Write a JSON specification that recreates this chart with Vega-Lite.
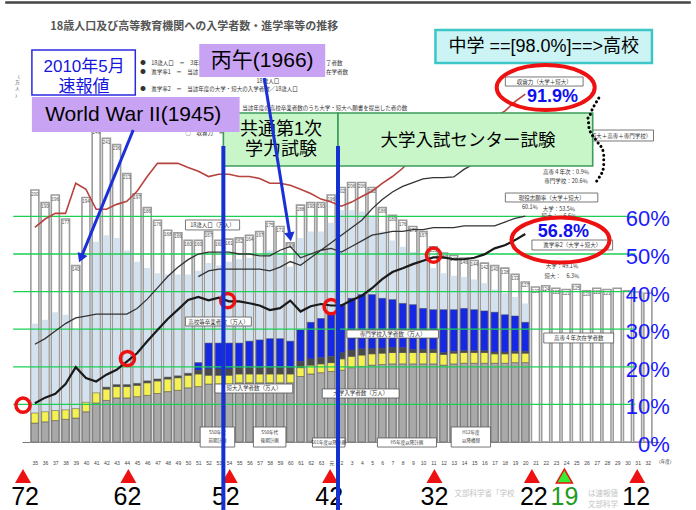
{
  "$schema": "https://vega.github.io/schema/vega-lite/v6.json",
  "width": 637,
  "height": 378,
  "autosize": {"type": "none"},
  "padding": {"left": 22, "top": 64, "right": 37, "bottom": 68},
  "background": "#ffffff",
  "config": {"view": {"stroke": null}, "axis": {"grid": false}, "font": "Liberation Sans, Noto Sans CJK JP"},
  "datasets": {
    "bars": [
      {"yr":1960,"pop":200,"hs":94,"s1_uni":15,"s2_jc":8,"s3_oth":0,"s4_sen":0},
      {"yr":1961,"pop":190,"hs":97,"s1_uni":16,"s2_jc":8,"s3_oth":0,"s4_sen":0},
      {"yr":1962,"pop":196,"hs":103,"s1_uni":17,"s2_jc":8,"s3_oth":0,"s4_sen":0},
      {"yr":1963,"pop":177,"hs":101,"s1_uni":18,"s2_jc":7.5,"s3_oth":0,"s4_sen":0},
      {"yr":1964,"pop":140,"hs":89,"s1_uni":19,"s2_jc":7.5,"s3_oth":0,"s4_sen":0},
      {"yr":1965,"pop":194,"hs":119,"s1_uni":24,"s2_jc":7.5,"s3_oth":0,"s4_sen":0},
      {"yr":1966,"pop":249,"hs":159,"s1_uni":31,"s2_jc":8,"s3_oth":0,"s4_sen":0},
      {"yr":1967,"pop":241,"hs":164,"s1_uni":33,"s2_jc":9,"s3_oth":1.5,"s4_sen":0},
      {"yr":1968,"pop":236,"hs":162,"s1_uni":35,"s2_jc":9,"s3_oth":1.5,"s4_sen":0},
      {"yr":1969,"pop":213,"hs":152,"s1_uni":35,"s2_jc":9,"s3_oth":1.5,"s4_sen":0},
      {"yr":1970,"pop":197,"hs":143,"s1_uni":36,"s2_jc":9,"s3_oth":1.5,"s4_sen":0},
      {"yr":1971,"pop":186,"hs":138,"s1_uni":37,"s2_jc":10,"s3_oth":1.5,"s4_sen":0},
      {"yr":1972,"pop":176,"hs":134,"s1_uni":38.5,"s2_jc":10,"s3_oth":1.5,"s4_sen":0},
      {"yr":1973,"pop":168,"hs":133,"s1_uni":40,"s2_jc":10,"s3_oth":1.5,"s4_sen":0},
      {"yr":1974,"pop":166,"hs":133,"s1_uni":41,"s2_jc":10,"s3_oth":1.5,"s4_sen":0},
      {"yr":1975,"pop":160,"hs":133,"s1_uni":43,"s2_jc":10,"s3_oth":1.5,"s4_sen":0},
      {"yr":1976,"pop":160,"hs":136,"s1_uni":44,"s2_jc":10,"s3_oth":3,"s4_sen":6},
      {"yr":1977,"pop":167,"hs":142,"s1_uni":46,"s2_jc":7,"s3_oth":5,"s4_sen":20.5},
      {"yr":1978,"pop":160,"hs":140,"s1_uni":46,"s2_jc":7,"s3_oth":5,"s4_sen":20.5},
      {"yr":1979,"pop":161,"hs":143,"s1_uni":46,"s2_jc":7,"s3_oth":5,"s4_sen":20.5},
      {"yr":1980,"pop":162,"hs":145,"s1_uni":47,"s2_jc":7,"s3_oth":5,"s4_sen":19.5},
      {"yr":1981,"pop":164,"hs":146,"s1_uni":47,"s2_jc":7,"s3_oth":5,"s4_sen":21},
      {"yr":1982,"pop":167,"hs":147,"s1_uni":47,"s2_jc":7,"s3_oth":5,"s4_sen":22},
      {"yr":1983,"pop":175,"hs":152,"s1_uni":47,"s2_jc":7,"s3_oth":5,"s4_sen":23},
      {"yr":1984,"pop":171,"hs":150,"s1_uni":47,"s2_jc":7,"s3_oth":5,"s4_sen":23},
      {"yr":1985,"pop":158,"hs":139,"s1_uni":47,"s2_jc":7,"s3_oth":5,"s4_sen":21},
      {"yr":1986,"pop":188,"hs":162,"s1_uni":52,"s2_jc":7,"s3_oth":5,"s4_sen":25},
      {"yr":1987,"pop":190,"hs":167,"s1_uni":54,"s2_jc":7,"s3_oth":5,"s4_sen":29},
      {"yr":1988,"pop":190,"hs":167,"s1_uni":55,"s2_jc":7,"s3_oth":5,"s4_sen":31},
      {"yr":1989,"pop":196,"hs":174,"s1_uni":56,"s2_jc":7,"s3_oth":5,"s4_sen":33},
      {"yr":1990,"pop":202,"hs":184,"s1_uni":57,"s2_jc":9,"s3_oth":5,"s4_sen":38},
      {"yr":1991,"pop":206,"hs":184,"s1_uni":59,"s2_jc":9,"s3_oth":5,"s4_sen":41},
      {"yr":1992,"pop":206,"hs":183,"s1_uni":60,"s2_jc":9,"s3_oth":5,"s4_sen":43},
      {"yr":1993,"pop":202,"hs":180,"s1_uni":61,"s2_jc":9,"s3_oth":4,"s4_sen":43},
      {"yr":1994,"pop":186,"hs":167,"s1_uni":61.5,"s2_jc":9,"s3_oth":4,"s4_sen":39.5},
      {"yr":1995,"pop":180,"hs":160,"s1_uni":62,"s2_jc":9,"s3_oth":4,"s4_sen":38},
      {"yr":1996,"pop":176,"hs":155,"s1_uni":62,"s2_jc":9,"s3_oth":4,"s4_sen":35},
      {"yr":1997,"pop":171,"hs":151,"s1_uni":62,"s2_jc":9,"s3_oth":2.5,"s4_sen":35.5},
      {"yr":1998,"pop":167,"hs":148,"s1_uni":62,"s2_jc":9,"s3_oth":2.5,"s4_sen":32.5},
      {"yr":1999,"pop":155,"hs":138,"s1_uni":62,"s2_jc":9,"s3_oth":2.5,"s4_sen":31.5},
      {"yr":2000,"pop":150,"hs":134,"s1_uni":61,"s2_jc":8.5,"s3_oth":1.5,"s4_sen":34},
      {"yr":2001,"pop":148,"hs":132,"s1_uni":62,"s2_jc":8.5,"s3_oth":1.5,"s4_sen":33},
      {"yr":2002,"pop":146,"hs":131,"s1_uni":62.5,"s2_jc":8.5,"s3_oth":1.5,"s4_sen":33.5},
      {"yr":2003,"pop":144,"hs":129,"s1_uni":62.5,"s2_jc":8.5,"s3_oth":1.5,"s4_sen":32.5},
      {"yr":2004,"pop":142,"hs":126,"s1_uni":62.5,"s2_jc":8.5,"s3_oth":1.5,"s4_sen":31.5},
      {"yr":2005,"pop":140,"hs":121,"s1_uni":62.5,"s2_jc":7.5,"s3_oth":1.5,"s4_sen":31.5},
      {"yr":2006,"pop":138,"hs":118,"s1_uni":62.5,"s2_jc":7.5,"s3_oth":1.5,"s4_sen":29.5},
      {"yr":2007,"pop":133,"hs":115,"s1_uni":63,"s2_jc":7.5,"s3_oth":1.5,"s4_sen":28},
      {"yr":2008,"pop":127,"hs":110,"s1_uni":63,"s2_jc":7.5,"s3_oth":1.5,"s4_sen":23},
      {"yr":2009,"pop":123},
      {"yr":2010,"pop":124},
      {"yr":2011,"pop":122},
      {"yr":2012,"pop":121},
      {"yr":2013,"pop":125},
      {"yr":2014,"pop":120},
      {"yr":2015,"pop":122},
      {"yr":2016,"pop":121},
      {"yr":2017,"pop":122},
      {"yr":2018,"pop":120},
      {"yr":2019,"pop":119},
      {"yr":2020,"pop":118}
    ],
    "rates": [
      {"yr":1960,"cap":57.1,"r2":10.3,"gen":26},
      {"yr":1961,"cap":59.3,"r2":11.8,"gen":27.5},
      {"yr":1962,"cap":60.8,"r2":12.8,"gen":29.5},
      {"yr":1963,"cap":60.8,"r2":15.4,"gen":31.5},
      {"yr":1964,"cap":68.8,"r2":19.9,"gen":33},
      {"yr":1965,"cap":67.2,"r2":17.0,"gen":33.5},
      {"yr":1966,"cap":61.9,"r2":16.1,"gen":34},
      {"yr":1967,"cap":61.9,"r2":17.9,"gen":34},
      {"yr":1968,"cap":63.2,"r2":19.2,"gen":34},
      {"yr":1969,"cap":64.0,"r2":21.4,"gen":34},
      {"yr":1970,"cap":66.7,"r2":23.6,"gen":35.5},
      {"yr":1971,"cap":70.6,"r2":26.8,"gen":38},
      {"yr":1972,"cap":74.1,"r2":29.8,"gen":41},
      {"yr":1973,"cap":74.1,"r2":32.7,"gen":44},
      {"yr":1974,"cap":74.1,"r2":35.2,"gen":46.5},
      {"yr":1975,"cap":73.0,"r2":37.8,"gen":48.5},
      {"yr":1976,"cap":72.0,"r2":38.6,"gen":50,"r1":44},
      {"yr":1977,"cap":70.6,"r2":37.7,"gen":50.5,"r1":45.5},
      {"yr":1978,"cap":71.2,"r2":38.4,"gen":50.5,"r1":46},
      {"yr":1979,"cap":71.2,"r2":37.4,"gen":50.5,"r1":46},
      {"yr":1980,"cap":70.6,"r2":37.4,"gen":50,"r1":46},
      {"yr":1981,"cap":70.6,"r2":36.9,"gen":50,"r1":46},
      {"yr":1982,"cap":70.1,"r2":36.3,"gen":49.5,"r1":46},
      {"yr":1983,"cap":68.8,"r2":35.1,"gen":49.5,"r1":45.5},
      {"yr":1984,"cap":68.8,"r2":35.6,"gen":51,"r1":46.5},
      {"yr":1985,"cap":68.3,"r2":37.6,"gen":52,"r1":48},
      {"yr":1986,"cap":67.2,"r2":34.7,"gen":49,"r1":47},
      {"yr":1987,"cap":66.1,"r2":36.1,"gen":50,"r1":49},
      {"yr":1988,"cap":64.6,"r2":36.7,"gen":51,"r1":51},
      {"yr":1989,"cap":63.8,"r2":36.3,"gen":51.5,"r1":53},
      {"yr":1990,"cap":62.7,"r2":36.3,"gen":50.5,"r1":55},
      {"yr":1991,"cap":63.8,"r2":37.7,"gen":52,"r1":57},
      {"yr":1992,"cap":65.3,"r2":38.9,"gen":53.5,"r1":59},
      {"yr":1993,"cap":66.7,"r2":40.9,"gen":55,"r1":62},
      {"yr":1994,"cap":68.8,"r2":43.3,"gen":55.5,"r1":64.5},
      {"yr":1995,"cap":70.6,"r2":45.2,"gen":56,"r1":66.5},
      {"yr":1996,"cap":72.8,"r2":46.2,"gen":56,"r1":68},
      {"yr":1997,"cap":75.7,"r2":47.3,"gen":56.5,"r1":69},
      {"yr":1998,"cap":78,"r2":48.2,"gen":56.5,"r1":70},
      {"yr":1999,"cap":80,"r2":49.1,"gen":57,"r1":70.3},
      {"yr":2000,"cap":81.5,"r2":49.1,"gen":57,"r1":70.3},
      {"yr":2001,"cap":82.5,"r2":48.6,"gen":57,"r1":70.5},
      {"yr":2002,"cap":83.5,"r2":48.6,"gen":57.5,"r1":72.5},
      {"yr":2003,"cap":84.5,"r2":49.0,"gen":57.5,"r1":74},
      {"yr":2004,"cap":85.5,"r2":49.9,"gen":57.5,"r1":75},
      {"yr":2005,"cap":86.5,"r2":51.5,"gen":57.5,"r1":76},
      {"yr":2006,"cap":88,"r2":52.3,"gen":58.5,"r1":76.5},
      {"yr":2007,"cap":90.5,"r2":53.7,"gen":59.5,"r1":77},
      {"yr":2008,"cap":92.5,"r2":55.3,"gen":60.1,"r1":77}
    ]
  },
  "encoding": {
    "x": {
      "field": "yr", "type": "quantitative",
      "scale": {"domain": [1959.23, 2020.6], "nice": false, "zero": false},
      "axis": {
        "values": [1960,1961,1962,1963,1964,1965,1966,1967,1968,1969,1970,1971,1972,1973,1974,1975,1976,1977,1978,1979,1980,1981,1982,1983,1984,1985,1986,1987,1988,1989,1990,1991,1992,1993,1994,1995,1996,1997,1998,1999,2000,2001,2002,2003,2004,2005,2006,2007,2008,2009,2010,2011,2012,2013,2014,2015,2016,2017,2018,2019,2020],
        "labelExpr": "datum.value < 1989 ? '' + (datum.value - 1925) : (datum.value == 1989 ? '元' : '' + (datum.value - 1988))",
        "title": null, "labelFontSize": 5, "labelColor": "#444", "ticks": false,
        "domainColor": "#777", "labelPadding": 18, "labelOverlap": false, "labelFlush": false, "grid": false
      }
    }
  },
  "layer": [
    {
      "layer": [
        {
          "data": {"name": "bars"},
          "mark": {"type": "bar", "orient": "vertical", "size": 8, "fill": "#ffffff", "stroke": "#9c9c9c", "strokeWidth": 1.6},
          "encoding": {
            "y": {"field": "pop", "type": "quantitative", "stack": null,
              "scale": {"domain": [0, 300], "nice": false, "zero": false},
              "axis": {"orient": "left", "values": [0,50,100,150,200,250,300], "title": null, "labelFontSize": 5, "labelColor": "#555", "domainColor": "#999", "domainWidth": 1.5, "tickColor": "#999", "tickSize": 3, "labelPadding": 2, "grid": false}}
          }
        },
        {
          "data": {"name": "bars"},
          "transform": [{"filter": "datum.hs != null"}],
          "mark": {"type": "bar", "orient": "vertical", "size": 6.5, "fill": "#d4e1ee"},
          "encoding": {
            "y": {"field": "hs", "type": "quantitative", "stack": null, "scale": {"domain": [0, 300], "nice": false, "zero": false}, "axis": null}
          }
        },
        {
          "data": {"name": "bars"},
          "transform": [
            {"filter": "datum.s1_uni != null"},
            {"fold": ["s1_uni", "s2_jc", "s3_oth", "s4_sen"], "as": ["part", "val"]},
            {"filter": "datum.val > 0"}
          ],
          "mark": {"type": "bar", "orient": "vertical", "size": 7, "stroke": "#4d4d4d", "strokeWidth": 0.5},
          "encoding": {
            "y": {"field": "val", "type": "quantitative", "stack": "zero", "scale": {"domain": [0, 300], "nice": false, "zero": false}, "axis": null},
            "color": {"field": "part", "type": "nominal", "scale": {"domain": ["s1_uni", "s2_jc", "s3_oth", "s4_sen"], "range": ["#a9a9a9", "#f5f152", "#4a4a4a", "#1428e6"]}, "legend": null},
            "order": {"field": "part", "sort": "ascending"}
          }
        },
        {
          "data": {"name": "bars"},
          "transform": [{"filter": "datum.yr <= 2016"}],
          "mark": {"type": "text", "baseline": "top", "dy": 1.5, "fontSize": 4.5, "color": "#555555", "font": "Liberation Sans"},
          "encoding": {
            "y": {"field": "pop", "type": "quantitative", "scale": {"domain": [0, 300], "nice": false, "zero": false}, "axis": null},
            "text": {"field": "pop", "type": "quantitative"}
          }
        }
      ]
    },
    {
      "layer": [
        {
          "data": {"values": [
            {"yr": 1957.88, "yr2": 2018.77, "p": 10},
            {"yr": 1957.88, "yr2": 2018.77, "p": 20},
            {"yr": 1957.88, "yr2": 2018.77, "p": 30},
            {"yr": 1957.88, "yr2": 2018.77, "p": 40},
            {"yr": 1957.88, "yr2": 2018.77, "p": 50},
            {"yr": 1957.88, "yr2": 2018.77, "p": 60}
          ]},
          "mark": {"type": "rule", "color": "#1ccf55", "strokeWidth": 1.3},
          "encoding": {
            "x2": {"field": "yr2"},
            "y": {"field": "p", "type": "quantitative", "scale": {"domain": [0, 100.53], "nice": false, "zero": false},
              "axis": {"orient": "right", "values": [0,10,20,30,40,50,60,70,80,90,100], "labelExpr": "datum.value + '%'", "title": null, "labelFontSize": 5, "labelColor": "#555", "domainColor": "#999", "domainWidth": 1.2, "tickColor": "#999", "tickSize": 3, "labelPadding": 3, "grid": false}}
          }
        },
        {
          "data": {"name": "rates"},
          "mark": {"type": "line", "color": "#b8423e", "strokeWidth": 1.6},
          "encoding": {"y": {"field": "cap", "type": "quantitative", "scale": {"domain": [0, 100.53], "nice": false, "zero": false}, "axis": null}}
        },
        {
          "data": {"name": "rates"},
          "mark": {"type": "line", "color": "#333333", "strokeWidth": 1.3},
          "encoding": {"y": {"field": "gen", "type": "quantitative", "scale": {"domain": [0, 100.53], "nice": false, "zero": false}, "axis": null}}
        },
        {
          "data": {"name": "rates"},
          "transform": [{"filter": "datum.r1 != null"}],
          "mark": {"type": "line", "color": "#333333", "strokeWidth": 1.3},
          "encoding": {"y": {"field": "r1", "type": "quantitative", "scale": {"domain": [0, 100.53], "nice": false, "zero": false}, "axis": null}}
        },
        {
          "data": {"name": "rates"},
          "mark": {"type": "line", "color": "#1a1a1a", "strokeWidth": 2.2},
          "encoding": {"y": {"field": "r2", "type": "quantitative", "scale": {"domain": [0, 100.53], "nice": false, "zero": false}, "axis": null}}
        },
        {
          "data": {"values": [
            {"yr": 1958.84, "p": 9.8},
            {"yr": 1969.06, "p": 22.2},
            {"yr": 1978.88, "p": 37.6},
            {"yr": 1989.0, "p": 36.0},
            {"yr": 1999.02, "p": 49.7}
          ]},
          "mark": {"type": "point", "shape": "circle", "filled": false, "size": 200, "stroke": "#ee1111", "strokeWidth": 3.5, "opacity": 1},
          "encoding": {"y": {"field": "p", "type": "quantitative", "scale": {"domain": [0, 100.53], "nice": false, "zero": false}, "axis": null}}
        },
        {
          "data": {"values": [
            {"yr": 2022.15, "p": 60, "t": "60%"},
            {"yr": 2022.15, "p": 50, "t": "50%"},
            {"yr": 2022.15, "p": 40, "t": "40%"},
            {"yr": 2022.15, "p": 30, "t": "30%"},
            {"yr": 2022.15, "p": 20, "t": "20%"},
            {"yr": 2022.15, "p": 10, "t": "10%"},
            {"yr": 2022.15, "p": 0, "t": "0%"}
          ]},
          "mark": {"type": "text", "align": "right", "baseline": "middle", "dy": 3, "fontSize": 22, "color": "#1a1aff", "font": "Liberation Sans"},
          "encoding": {
            "y": {"field": "p", "type": "quantitative", "scale": {"domain": [0, 100.53], "nice": false, "zero": false}, "axis": null},
            "text": {"field": "t"}
          }
        }
      ]
    },
    {
      "encoding": {
        "y": {"field": "v", "type": "quantitative", "scale": {"domain": [0, 300], "nice": false, "zero": false}, "axis": null}
      },
      "layer": [
        {
          "data": {"values": [
            {"yr": 1970.31, "v": 300.8, "t": "●　18歳人口　＝　3年前"},
            {"yr": 1988.5, "v": 300.8, "t": "了者数"},
            {"yr": 1970.31, "v": 293.7, "t": "●　進学率1　＝　当該"},
            {"yr": 1988.5, "v": 293.7, "t": "在学者数"},
            {"yr": 1981.7, "v": 286.5, "t": "18歳人口"},
            {"yr": 1970.31, "v": 280.2, "t": "●　進学率2　＝　当該年度の大学・短大の入学者数／18歳人口"},
            {"yr": 1980.3, "v": 265.1, "t": "当該年度の高校卒業者数のうち大学・短大へ願書を提出した者の数"},
            {"yr": 1974.74, "v": 245.2, "t": "○　収容力　＝"}
          ]},
          "mark": {"type": "text", "align": "left", "baseline": "middle", "fontSize": 5.5, "color": "#333333", "font": "Noto Sans CJK JP"},
          "encoding": {"text": {"field": "t"}}
        },
        {
          "data": {"values": [
            {"yr": 1974.74, "yr2": 1980.04, "v": 176.2, "v2": 168.3},
            {"yr": 1974.74, "yr2": 1981.19, "v": 99.2, "v2": 92.1},
            {"yr": 1990.54, "yr2": 1999.5, "v": 88.9, "v2": 82.5},
            {"yr": 1977.63, "yr2": 1985.24, "v": 46, "v2": 38.9},
            {"yr": 1988.13, "yr2": 1995.65, "v": 42.1, "v2": 34.9},
            {"yr": 2009.81, "yr2": 2016.65, "v": 86.5, "v2": 78.6},
            {"yr": 2006.05, "yr2": 2013.66, "v": 289.7, "v2": 282.5},
            {"yr": 2006.05, "yr2": 2015.1, "v": 197.6, "v2": 190.5},
            {"yr": 2008.65, "yr2": 2016.55, "v": 160.3, "v2": 152.4},
            {"yr": 2012.0, "yr2": 2020.55, "v": 247.6, "v2": 238.9},
            {"yr": 1976.18, "yr2": 1979.56, "v": 11.9, "v2": -4},
            {"yr": 1981.39, "yr2": 1984.57, "v": 11.9, "v2": -4},
            {"yr": 1987.17, "yr2": 1990.35, "v": 3.2, "v2": -4},
            {"yr": 1993.53, "yr2": 1999.31, "v": 3.2, "v2": -4},
            {"yr": 2000.75, "yr2": 2004.6, "v": 11.9, "v2": -4}
          ]},
          "mark": {"type": "rect", "fill": "#ffffff", "stroke": "#555555", "strokeWidth": 0.8},
          "encoding": {"x2": {"field": "yr2"}, "y2": {"field": "v2"}}
        },
        {
          "data": {"values": [
            {"yr": 1977.39, "v": 172.2, "t": "18歳人口（万人）"},
            {"yr": 1977.97, "v": 95.6, "t": "高校等卒業者数（万人）"},
            {"yr": 1995.02, "v": 85.7, "t": "専門学校入学者数（万人）"},
            {"yr": 1981.44, "v": 42.5, "t": "短大入学者数（万人）"},
            {"yr": 1991.89, "v": 38.5, "t": "大学入学者数（万人）"},
            {"yr": 2013.23, "v": 82.5, "t": "高専４年次在学者数"},
            {"yr": 2009.86, "v": 286.1, "t": "収容力（大学＋短大）"},
            {"yr": 2010.58, "v": 194.0, "t": "現役志願率（大学＋短大）"},
            {"yr": 2012.6, "v": 156.3, "t": "進学率2（大学＋短大）"},
            {"yr": 2016.3, "v": 243.2, "t": "（大学＋短大＋高専＋専門学校）"},
            {"yr": 2008.46, "v": 186.5, "t": "60.1％"},
            {"yr": 2011.3, "v": 185.0, "t": "大学：53.5％"},
            {"yr": 2011.3, "v": 179.6, "t": "短大：　6.6％"},
            {"yr": 2011.6, "v": 139.7, "t": "大学：49.1％"},
            {"yr": 2011.6, "v": 131.7, "t": "短大：　6.3％"},
            {"yr": 2012.0, "v": 214.3, "t": "高専４年次：0.9％"},
            {"yr": 2012.0, "v": 207.1, "t": "専門学校：20.6％"},
            {"yr": 2012.5, "v": 229.0, "t": "大学：49.1％"},
            {"yr": 2012.5, "v": 221.5, "t": "短大：　6.3％"}
          ]},
          "mark": {"type": "text", "align": "center", "baseline": "middle", "fontSize": 5.5, "color": "#333333", "font": "Noto Sans CJK JP"},
          "encoding": {"text": {"field": "t"}}
        },
        {
          "data": {"values": [
            {"yr": 1977.87, "v": 7.2, "t": "S50年代"},
            {"yr": 1977.87, "v": 0.5, "t": "前期計画"},
            {"yr": 1982.98, "v": 7.2, "t": "S50年代"},
            {"yr": 1982.98, "v": 0.5, "t": "後期計画"},
            {"yr": 1988.76, "v": -0.4, "t": "S61年度以降計画"},
            {"yr": 1996.42, "v": -0.4, "t": "H5年度以降計画"},
            {"yr": 2002.68, "v": 7.2, "t": "H12年度"},
            {"yr": 2002.68, "v": 0.5, "t": "以降構想"},
            {"yr": 1958.3, "v": 290, "t": "（"},
            {"yr": 1958.3, "v": 285, "t": "万"},
            {"yr": 1958.3, "v": 280, "t": "人"},
            {"yr": 1958.3, "v": 275, "t": "）"},
            {"yr": 2021.7, "v": -16, "t": "（年度）"}
          ]},
          "mark": {"type": "text", "align": "center", "baseline": "middle", "fontSize": 4.5, "color": "#333333", "font": "Noto Sans CJK JP"},
          "encoding": {"text": {"field": "t"}}
        },
        {
          "data": {"values": [
            {"yr": 1978.45, "yr2": 1989.67, "v": 261.1, "v2": 219.0},
            {"yr": 1989.67, "yr2": 2014.6, "v": 261.1, "v2": 219.0}
          ]},
          "mark": {"type": "rect", "fill": "#c8f6c8", "stroke": "#3c9c5c", "strokeWidth": 1.6},
          "encoding": {"x2": {"field": "yr2"}, "y2": {"field": "v2"}}
        },
        {
          "data": {"values": [
            {"yr": 1959.71, "yr2": 1980.04, "v": 273.8, "v2": 246.0},
            {"yr": 1976.09, "yr2": 1988.42, "v": 315.9, "v2": 289.7}
          ]},
          "mark": {"type": "rect", "fill": "#c9a3f3"},
          "encoding": {"x2": {"field": "yr2"}, "y2": {"field": "v2"}}
        },
        {
          "data": {"values": [{"yr": 1999.21, "yr2": 2020.4, "v": 327.0, "v2": 300.8}]},
          "mark": {"type": "rect", "fill": "#cdf4f4", "stroke": "#3cc6c6", "strokeWidth": 2.5},
          "encoding": {"x2": {"field": "yr2"}, "y2": {"field": "v2"}}
        },
        {
          "data": {"values": [{"yr": 1959.71, "yr2": 1969.83, "v": 311.1, "v2": 275.4}]},
          "mark": {"type": "rect", "fill": "#ffffff", "stroke": "#2a2ae0", "strokeWidth": 1.5},
          "encoding": {"x2": {"field": "yr2"}, "y2": {"field": "v2"}}
        },
        {
          "data": {"values": [
            {"yr": 1984.08, "v": 247.6, "t": "共通第1次"},
            {"yr": 1984.08, "v": 231.7, "t": "学力試験"},
            {"yr": 2009.81, "v": 313.5, "t": "中学 ==[98.0%]==>高校"}
          ]},
          "mark": {"type": "text", "align": "center", "baseline": "middle", "fontSize": 18, "color": "#000000"},
          "encoding": {"text": {"field": "t"}}
        },
        {
          "data": {"values": [
            {"yr": 1982.25, "v": 302.4, "t": "丙午(1966)"},
            {"yr": 1969.63, "v": 259.5, "t": "World War II(1945)"}
          ]},
          "mark": {"type": "text", "align": "center", "baseline": "middle", "fontSize": 21, "color": "#000000"},
          "encoding": {"text": {"field": "t"}}
        },
        {
          "data": {"values": [{"yr": 2002.39, "v": 238.9, "t": "大学入試センター試験"}]},
          "mark": {"type": "text", "align": "center", "baseline": "middle", "fontSize": 17.5, "color": "#000000"},
          "encoding": {"text": {"field": "t"}}
        },
        {
          "data": {"values": [
            {"yr": 1964.82, "v": 297.6, "t": "2010年5月"},
            {"yr": 1964.82, "v": 281.7, "t": "速報値"}
          ]},
          "mark": {"type": "text", "align": "center", "baseline": "middle", "fontSize": 17, "color": "#1515e0"},
          "encoding": {"text": {"field": "t"}}
        },
        {
          "data": {"values": [
            {"yr": 2010.67, "v": 273.8, "t": "91.9%"},
            {"yr": 2011.73, "v": 167.0, "t": "56.8%"}
          ]},
          "mark": {"type": "text", "align": "center", "baseline": "middle", "fontSize": 18, "fontWeight": "bold", "color": "#1010ee", "font": "Liberation Sans"},
          "encoding": {"text": {"field": "t"}}
        },
        {
          "data": {"values": [{"yr": 1975.6, "v": 329.4, "t": "18歳人口及び高等教育機関への入学者数・進学率等の推移"}]},
          "mark": {"type": "text", "align": "center", "baseline": "middle", "fontSize": 11, "fontWeight": "bold", "color": "#555555", "font": "Noto Sans CJK JP"},
          "encoding": {"text": {"field": "t"}}
        },
        {
          "data": {"values": [{"yr": 1957.1, "yr2": 2024.2, "v": 348.8}]},
          "mark": {"type": "rule", "color": "#444444", "strokeWidth": 2.5},
          "encoding": {"x2": {"field": "yr2"}}
        },
        {
          "data": {"values": [
            {"yr": 1958.84, "v": -27},
            {"yr": 1969.15, "v": -27},
            {"yr": 1979.07, "v": -27},
            {"yr": 1988.9, "v": -27},
            {"yr": 1999.11, "v": -27},
            {"yr": 2008.65, "v": -27},
            {"yr": 2018.96, "v": -27}
          ]},
          "mark": {"type": "point", "shape": "triangle-up", "filled": true, "size": 256, "color": "#ee1111", "opacity": 1}
        },
        {
          "data": {"values": [{"yr": 2011.83, "v": -27}]},
          "mark": {"type": "point", "shape": "triangle-up", "filled": true, "size": 256, "fill": "#33ee33", "stroke": "#ee1111", "strokeWidth": 1.5, "opacity": 1}
        },
        {
          "data": {"values": [
            {"yr": 2004.0, "v": -41.5, "t": "文部科学省「学校"},
            {"yr": 2015.6, "v": -41.5, "t": "は速報値"},
            {"yr": 2015.6, "v": -49.8, "t": "文部科学"}
          ]},
          "mark": {"type": "text", "align": "center", "baseline": "middle", "fontSize": 7.5, "color": "#c4c4c4", "font": "Noto Sans CJK JP"},
          "encoding": {"text": {"field": "t"}}
        },
        {
          "data": {"values": [
            {"yr": 1959.04, "v": -43.65, "t": "72"},
            {"yr": 1969.06, "v": -43.65, "t": "62"},
            {"yr": 1978.69, "v": -43.65, "t": "52"},
            {"yr": 1988.81, "v": -43.65, "t": "42"},
            {"yr": 1999.11, "v": -43.65, "t": "32"},
            {"yr": 2008.84, "v": -43.65, "t": "22"},
            {"yr": 2018.86, "v": -43.65, "t": "12"}
          ]},
          "mark": {"type": "text", "align": "center", "baseline": "middle", "fontSize": 25, "color": "#000000", "font": "Liberation Sans"},
          "encoding": {"text": {"field": "t"}}
        },
        {
          "data": {"values": [{"yr": 2011.83, "v": -43.65, "t": "19"}]},
          "mark": {"type": "text", "align": "center", "baseline": "middle", "fontSize": 25, "color": "#1f9a1f", "font": "Liberation Sans"},
          "encoding": {"text": {"field": "t"}}
        },
        {
          "data": {"values": [
            {"yr": 1978.45, "yr2": 1978.45, "v": 234.9, "v2": -54},
            {"yr": 1989.67, "yr2": 1989.67, "v": 234.9, "v2": -54}
          ]},
          "mark": {"type": "rule", "color": "#1432d2", "strokeWidth": 4},
          "encoding": {"x2": {"field": "yr2"}, "y2": {"field": "v2"}}
        },
        {
          "data": {"values": [
            {"yr": 1969.63, "v": 247.6, "yr2": 1964.5, "v2": 145.9},
            {"yr": 1982.45, "v": 288.9, "yr2": 1984.98, "v2": 162.9}
          ]},
          "mark": {"type": "rule", "color": "#1a2fd6", "strokeWidth": 3},
          "encoding": {"x2": {"field": "yr2"}, "y2": {"field": "v2"}}
        },
        {
          "data": {"values": [{"yr": 1964.5, "v": 145.9}]},
          "mark": {"type": "point", "shape": "triangle-up", "filled": true, "size": 110, "angle": 202.6, "color": "#1a2fd6", "opacity": 1}
        },
        {
          "data": {"values": [{"yr": 1984.98, "v": 162.9}]},
          "mark": {"type": "point", "shape": "triangle-up", "filled": true, "size": 110, "angle": 170.2, "color": "#1a2fd6", "opacity": 1}
        },
        {
          "data": {"values": [
            {"i": 1, "yr": 2015.20, "v": 273.0},
            {"i": 2, "yr": 2014.62, "v": 265.1},
            {"i": 3, "yr": 2014.14, "v": 257.1},
            {"i": 4, "yr": 2014.24, "v": 249.2},
            {"i": 5, "yr": 2014.91, "v": 239.7},
            {"i": 6, "yr": 2015.68, "v": 229.4},
            {"i": 7, "yr": 2015.68, "v": 218.3},
            {"i": 8, "yr": 2015.20, "v": 209.5},
            {"i": 9, "yr": 2014.72, "v": 204.8}
          ]},
          "mark": {"type": "line", "color": "#000000", "strokeWidth": 3, "strokeDash": [0.1, 4.5], "strokeCap": "round", "interpolate": "monotone"},
          "encoding": {"order": {"field": "i"}}
        },
        {
          "data": {"values": [
            {"yr": 2010.0, "v": 281.3},
            {"yr": 2011.45, "v": 160.3}
          ]},
          "mark": {"type": "point", "shape": "M 1 0 C 1 0.254 0.552 0.46 0 0.46 C -0.552 0.46 -1 0.254 -1 0 C -1 -0.254 -0.552 -0.46 0 -0.46 C 0.552 -0.46 1 -0.254 1 0 Z", "filled": false, "size": 9604, "stroke": "#ee1111", "strokeWidth": 4, "opacity": 1}
        }
      ]
    }
  ],
  "resolve": {"scale": {"y": "independent"}}
}
